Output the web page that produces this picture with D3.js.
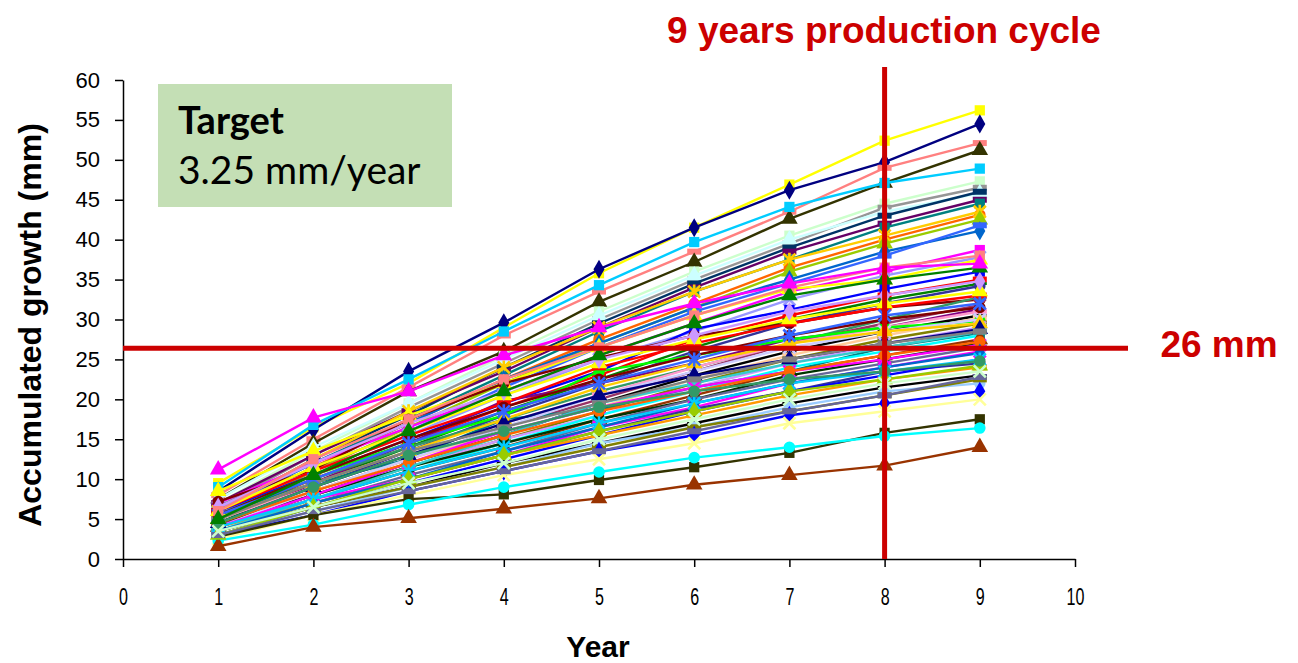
<!DOCTYPE html>
<html>
<head>
<meta charset="utf-8">
<script src="https://cdn.jsdelivr.net/npm/d3@7"></script>
<style>
  html, body { margin: 0; padding: 0; background: #fff; }
  svg { display: block; }
</style>
</head>
<body>
<svg id="chart" width="1298" height="663"></svg>
<script>
// Years on the x axis
const years = [1, 2, 3, 4, 5, 6, 7, 8, 9];

// Accumulated growth (mm) per tree, one array per series
const s01 = [9.5, 16.5, 22.0, 29.0, 35.8, 41.5, 46.9, 52.4, 56.2];
const s02 = [8.5, 16.2, 23.5, 29.6, 36.3, 41.5, 46.2, 49.7, 54.5];
const s03 = [8.0, 15.0, 21.5, 28.0, 33.5, 38.5, 43.5, 49.0, 52.1];
const s04 = [7.5, 14.5, 21.0, 26.0, 32.2, 37.2, 42.6, 47.1, 51.2];
const s05 = [9.0, 16.8, 22.5, 28.5, 34.3, 39.7, 44.1, 47.1, 48.9];
const s06 = [7.0, 13.5, 19.5, 25.5, 31.0, 36.0, 40.5, 44.5, 47.3];
const s07 = [6.5, 13.0, 19.0, 24.5, 30.0, 35.0, 39.5, 44.0, 46.5];
const s08 = [7.5, 14.0, 19.5, 25.0, 30.5, 35.5, 40.0, 43.5, 45.8];
const s09 = [6.0, 12.5, 18.0, 24.0, 29.5, 34.5, 39.0, 43.0, 46.0];
const s10 = [7.0, 13.0, 18.5, 23.5, 29.0, 34.0, 38.5, 42.0, 45.0];
const s11 = [6.5, 12.0, 17.5, 23.0, 28.5, 33.5, 37.5, 41.5, 44.5];
const s12 = [5.5, 11.5, 17.0, 22.5, 27.5, 32.0, 36.5, 40.0, 43.1];
const s13 = [6.0, 12.5, 18.5, 24.0, 29.0, 33.5, 37.5, 40.5, 43.5];
const s14 = [5.0, 11.0, 16.5, 22.0, 27.0, 31.5, 36.0, 39.5, 42.5];
const s15 = [6.0, 12.0, 17.0, 22.5, 27.0, 31.5, 35.0, 38.5, 41.1];
const s16 = [5.5, 11.5, 16.0, 21.5, 26.5, 31.0, 34.5, 38.0, 41.8];
const s17 = [7.0, 12.0, 16.5, 21.0, 25.5, 29.5, 33.5, 36.0, 38.7];
const s18 = [6.5, 11.0, 15.5, 20.5, 25.0, 28.5, 32.5, 35.5, 37.8];
const s19 = [8.5, 13.5, 18.0, 22.0, 26.5, 30.5, 33.8, 35.0, 37.5];
const s20 = [6.0, 10.5, 15.0, 19.5, 23.5, 28.8, 31.2, 33.8, 36.0];
const s21 = [5.0, 10.0, 14.5, 19.0, 23.0, 27.5, 30.5, 33.0, 35.0];
const s22 = [4.5, 9.5, 14.0, 18.5, 22.5, 26.5, 30.0, 32.5, 34.5];
const s23 = [5.0, 9.0, 13.5, 18.0, 22.0, 26.0, 29.5, 32.0, 34.2];
const s24 = [7.2, 11.2, 17.5, 22.0, 25.2, 28.0, 29.5, 31.5, 32.5];
const s25 = [4.0, 9.5, 14.5, 19.8, 22.0, 24.5, 27.5, 29.0, 31.3];
const s26 = [5.5, 10.0, 14.0, 17.5, 21.0, 24.0, 27.0, 30.0, 32.8];
const s27 = [4.5, 8.5, 12.5, 16.5, 20.0, 23.5, 27.0, 29.5, 31.8];
const s28 = [5.0, 9.0, 13.0, 17.0, 20.5, 24.0, 27.0, 29.0, 31.0];
const s29 = [4.0, 8.0, 12.0, 15.5, 19.5, 23.0, 26.0, 28.5, 30.5];
const s30 = [4.5, 8.5, 12.5, 16.0, 19.0, 22.5, 25.5, 28.0, 30.2];
const s31 = [5.5, 10.5, 14.5, 18.0, 23.5, 25.5, 27.5, 29.0, 29.8];
const s32 = [4.0, 8.0, 11.5, 15.0, 18.5, 22.0, 25.0, 27.5, 29.5];
const s33 = [4.5, 8.0, 11.5, 15.0, 18.0, 21.5, 24.5, 27.0, 29.0];
const s34 = [5.5, 9.5, 12.5, 17.5, 18.8, 21.5, 23.5, 26.5, 28.3];
const s35 = [3.5, 7.5, 11.0, 14.5, 18.0, 21.0, 24.0, 26.0, 28.0];
const s36 = [4.0, 7.5, 11.0, 14.0, 17.5, 20.5, 23.5, 25.5, 27.5];
const s37 = [4.5, 8.0, 11.5, 14.5, 17.5, 20.0, 23.0, 25.0, 27.0];
const s38 = [3.5, 7.0, 10.5, 13.5, 17.0, 20.0, 22.5, 24.5, 26.5];
const s39 = [4.0, 7.5, 10.0, 13.0, 16.5, 19.0, 22.0, 24.0, 26.0];
const s40 = [3.5, 7.0, 10.0, 13.0, 16.0, 18.8, 21.0, 23.5, 24.5];
const s41 = [3.0, 6.5, 9.5, 12.5, 15.5, 18.5, 21.0, 23.0, 25.0];
const s42 = [4.0, 7.0, 10.0, 13.0, 15.5, 18.0, 20.5, 22.5, 24.0];
const s43 = [3.5, 6.5, 9.0, 12.0, 14.5, 17.0, 19.5, 21.5, 23.0];
const s44 = [3.0, 6.0, 9.0, 11.5, 14.5, 16.5, 19.0, 21.0, 22.0];
const s45 = [3.5, 6.5, 9.0, 11.5, 14.0, 16.5, 18.5, 20.5, 22.5];
const s46 = [3.0, 5.5, 8.5, 11.0, 13.5, 15.5, 18.0, 19.5, 21.0];
const s47 = [2.5, 5.5, 8.0, 10.5, 12.5, 14.5, 17.0, 18.5, 20.0];
const s48 = [2.8, 5.5, 7.5, 8.1, 9.9, 11.5, 13.3, 15.8, 17.5];
const s49 = [2.3, 4.3, 6.8, 9.0, 10.9, 12.7, 14.0, 15.4, 16.4];
const s50 = [1.6, 4.0, 5.1, 6.3, 7.6, 9.3, 10.5, 11.7, 14.0];
const s51 = [6.0, 11.0, 15.5, 19.5, 24.0, 27.0, 29.5, 31.5, 33.0];
const s52 = [4.0, 8.5, 12.5, 16.5, 20.5, 23.5, 26.5, 28.5, 30.0];
const s53 = [5.0, 9.5, 13.5, 17.5, 21.5, 24.5, 27.0, 28.5, 29.5];
const s54 = [3.5, 7.5, 11.5, 15.5, 19.5, 22.0, 24.5, 26.5, 28.5];
const s55 = [4.0, 8.0, 12.0, 16.0, 19.0, 21.5, 23.5, 25.0, 26.8];
const s56 = [4.5, 9.0, 13.0, 17.0, 20.5, 23.0, 25.0, 27.0, 28.8];
const s57 = [5.0, 9.5, 13.5, 16.5, 19.5, 22.5, 25.0, 27.0, 28.5];
const s58 = [4.5, 8.5, 12.0, 15.5, 18.5, 21.0, 23.5, 25.5, 27.2];
const s59 = [3.5, 7.0, 10.0, 13.5, 16.5, 19.5, 22.0, 24.0, 25.8];
const s60 = [4.0, 7.5, 11.0, 14.0, 17.0, 19.5, 22.0, 23.5, 25.0];
const s61 = [3.0, 6.5, 10.0, 13.0, 16.0, 18.5, 21.0, 22.5, 24.2];
const s62 = [5.5, 10.5, 15.0, 19.0, 22.5, 25.5, 28.0, 30.0, 31.5];
const s63 = [6.0, 11.5, 16.0, 20.5, 24.5, 27.5, 30.0, 32.0, 33.5];
const s64 = [5.5, 10.0, 14.5, 18.5, 22.0, 25.0, 28.0, 30.5, 32.0];
const s65 = [6.5, 12.0, 17.0, 21.0, 25.0, 28.0, 31.0, 33.0, 34.8];
const s66 = [4.5, 9.0, 13.0, 16.0, 19.0, 21.0, 22.5, 23.5, 24.8];
const s67 = [6.0, 12.5, 17.5, 22.5, 26.5, 30.5, 34.0, 36.5, 38.0];
const s68 = [5.0, 10.5, 16.0, 21.0, 25.5, 29.5, 33.0, 35.0, 36.5];
const s69 = [3.0, 6.0, 8.5, 11.0, 13.5, 16.0, 18.5, 20.5, 22.8];
const s70 = [3.5, 6.5, 9.5, 12.0, 15.0, 17.5, 20.0, 22.0, 23.5];
const s71 = [11.2, 17.7, 21.0, 25.5, 29.0, 32.0, 34.5, 36.5, 37.0];

const seriesValues = [s01, s02, s03, s04, s05, s06, s07, s08, s09, s10,
  s11, s12, s13, s14, s15, s16, s17, s18, s19, s20,
  s21, s22, s23, s24, s25, s26, s27, s28, s29, s30,
  s31, s32, s33, s34, s35, s36, s37, s38, s39, s40,
  s41, s42, s43, s44, s45, s46, s47, s48, s49, s50,
  s51, s52, s53, s54, s55, s56, s57, s58, s59, s60,
  s61, s62, s63, s64, s65, s66, s67, s68, s69, s70, s71];

// Axis ticks
const xTicks = [0, 1, 2, 3, 4, 5, 6, 7, 8, 9, 10];
const yTicks = [0, 5, 10, 15, 20, 25, 30, 35, 40, 45, 50, 55, 60];

// Reference marks
const targetLevel = [26.4];
const cycleYear = [8];

// Series styling (colour + marker), one entry per series
const seriesColors = ["#FFFF00", "#000080", "#FF8080", "#333300", "#00CCFF", "#CCFFCC", "#969696", "#CCFFFF", "#003366", "#660066",
  "#008080", "#FF6600", "#FFCC00", "#99CC00", "#0066CC", "#3366FF", "#FF00FF", "#9999FF", "#FFFF00", "#0000FF",
  "#FF0000", "#008000", "#333399", "#800000", "#800080", "#339966", "#993366", "#FF99CC", "#000000", "#FFCC99",
  "#00FF00", "#808000", "#CC99FF", "#008080", "#00FFFF", "#993300", "#003300", "#666699", "#FF00FF", "#333399",
  "#0000FF", "#FF9900", "#000000", "#99CCFF", "#808000", "#0000FF", "#FFFF99", "#333300", "#00FFFF", "#993300",
  "#FF0000", "#CCCCFF", "#FFCC00", "#33CCCC", "#FF00FF", "#000080", "#808080", "#FF6600", "#0066CC", "#00CCFF",
  "#99CC00", "#800000", "#FFFF00", "#3366FF", "#CC99FF", "#339966", "#FF8080", "#008000", "#666699", "#CCFFCC", "#FF00FF"];
const seriesMarkers = ["square", "diamond", "dash", "triangle", "square", "square", "dash", "triangle", "dash", "dash",
  "square", "circle", "star", "triangle", "diamond", "dash", "square", "x", "triangle", "square",
  "dash", "plus", "circle", "circle", "diamond", "circle", "star", "dash", "plus", "dash",
  "circle", "dash", "x", "square", "x", "triangle", "square", "dash", "x", "circle",
  "diamond", "dash", "plus", "circle", "dash", "diamond", "x", "square", "circle", "triangle",
  "dash", "star", "triangle", "dash", "x", "triangle", "dash", "circle", "diamond", "star",
  "triangle", "circle", "triangle", "star", "diamond", "circle", "square", "triangle", "dash", "x", "triangle"];

const svg = d3.select("#chart");
const margin = { left: 123, top: 80, right: 1075, bottom: 559 };

const x = d3.scaleLinear().domain([0, 10]).range([margin.left, margin.right]);
const y = d3.scaleLinear().domain([0, 60]).range([margin.bottom, margin.top]);

const red = "#CC0000";
const font = "'Liberation Sans', Arial, sans-serif";

// Target box
svg.append("rect")
  .attr("x", 158).attr("y", 84).attr("width", 294).attr("height", 123)
  .attr("fill", "#C4DFB5");
svg.append("text")
  .attr("x", 178).attr("y", 134)
  .attr("font-family", "Lato, 'Open Sans', sans-serif")
  .attr("font-weight", "bold").attr("font-size", 38)
  .attr("fill", "#000").text("Target");
svg.append("text")
  .attr("x", 178).attr("y", 184)
  .attr("font-family", "Lato, 'Open Sans', sans-serif")
  .attr("font-size", 39)
  .attr("fill", "#000").text("3.25 mm/year");

// Axes
const yAxis = d3.axisLeft(y).tickValues(yTicks).tickSize(8).tickPadding(15).tickSizeOuter(0);
const xAxis = d3.axisBottom(x).tickValues(xTicks).tickSize(8).tickSizeOuter(0);

const gy = svg.append("g").attr("transform", `translate(${margin.left},0)`).call(yAxis);
gy.selectAll("text").attr("font-family", font).attr("font-size", 22).attr("fill", "#000");
gy.selectAll("line, path").attr("stroke", "#000").attr("stroke-width", 1.5);

const gx = svg.append("g").attr("transform", `translate(0,${margin.bottom})`).call(xAxis);
gx.selectAll("text")
  .attr("font-family", font).attr("font-size", 23).attr("fill", "#000")
  .attr("y", 46).attr("dy", 0)
  .attr("transform", "scale(0.7,1)");
gx.selectAll("line, path").attr("stroke", "#000").attr("stroke-width", 1.5);

// Series lines and markers
const line = d3.line().x((d, i) => x(years[i])).y(d => y(d));
const sym = {
  diamond: d3.symbolDiamond, square: d3.symbolSquare, triangle: d3.symbolTriangle,
  circle: d3.symbolCircle
};

const series = svg.append("g");
seriesValues.forEach((vals, k) => {
  const c = seriesColors[k];
  const m = seriesMarkers[k];
  const open = (m === "x" || m === "plus" || m === "star");
  const g = series.append("g");
  g.append("path").datum(vals).attr("d", line)
    .attr("fill", "none").attr("stroke", c).attr("stroke-width", 2.4);
  g.selectAll("path.mk").data(vals).enter().append("path")
    .attr("class", "mk")
    .attr("transform", (d, i) => `translate(${x(years[i])},${y(d)})`)
    .attr("d", () => {
      if (m === "dash") return "M-7,-3H7V3H-7Z";
      if (m === "x") return "M-6,-6L6,6M-6,6L6,-6";
      if (m === "plus") return "M-7,0H7M0,-7V7";
      if (m === "star") return "M-6,-6L6,6M-6,6L6,-6M0,-7V7";
      return d3.symbol(sym[m], m === "triangle" ? 120 : 105)();
    })
    .attr("fill", open ? "none" : c)
    .attr("stroke", c)
    .attr("stroke-width", open ? 2.6 : 0);
});

// Reference lines: target level and production cycle
svg.selectAll("line.target").data(targetLevel).enter().append("line")
  .attr("x1", margin.left).attr("x2", 1128)
  .attr("y1", d => y(d)).attr("y2", d => y(d))
  .attr("stroke", red).attr("stroke-width", 5);
svg.selectAll("line.cycle").data(cycleYear).enter().append("line")
  .attr("x1", d => x(d)).attr("x2", d => x(d))
  .attr("y1", 67).attr("y2", margin.bottom)
  .attr("stroke", red).attr("stroke-width", 5);

// Labels
svg.append("text")
  .attr("x", 884).attr("y", 43).attr("text-anchor", "middle")
  .attr("font-family", font).attr("font-weight", "bold").attr("font-size", 37)
  .attr("fill", red).text("9 years production cycle");
svg.append("text")
  .attr("x", 1219).attr("y", 357).attr("text-anchor", "middle")
  .attr("font-family", font).attr("font-weight", "bold").attr("font-size", 37)
  .attr("fill", red).text("26 mm");

svg.append("text")
  .attr("transform", "translate(41,325) rotate(-90)").attr("text-anchor", "middle")
  .attr("font-family", font).attr("font-weight", "bold").attr("font-size", 32)
  .attr("fill", "#000").text("Accumulated growth (mm)");
svg.append("text")
  .attr("x", 598).attr("y", 657).attr("text-anchor", "middle")
  .attr("font-family", font).attr("font-weight", "bold").attr("font-size", 30)
  .attr("fill", "#000").text("Year");
</script>
</body>
</html>
